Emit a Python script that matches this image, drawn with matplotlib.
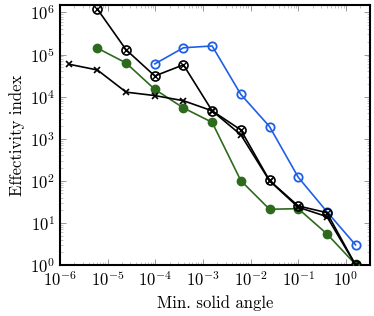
import matplotlib
matplotlib.use("Agg")
import matplotlib.pyplot as plt
import numpy as np

plt.rcParams['font.family'] = 'serif'
plt.rcParams['font.serif'] = ['cmr10']
plt.rcParams['mathtext.fontset'] = 'cm'
plt.rcParams['axes.formatter.use_mathtext'] = True

solid_angle = [1.53e-6, 6.1e-6, 2.44e-5, 9.77e-5, 3.9e-4, 1.5625e-3, 6.25e-3, 0.025, 0.1, 0.4, 1.6]

cross_vals = [5.9e4, 4.3e4, 1.28e4, 1.06e4, 8.0e3, 4.6e3, 1.24e3, 1.0e2, 23.6, 14.1, 1.0]
otimes_x = solid_angle[1:]
otimes_vals = [1.2e6, 1.3e5, 3.1e4, 5.7e4, 4.6e3, 1.62e3, 1.02e2, 25.3, 17.5, 1.0]
green_x = solid_angle[1:]
green_vals = [1.42e5, 6.3e4, 1.49e4, 5.4e3, 2.45e3, 101, 21.1, 21.8, 5.5, 1.03]
blue_x = solid_angle[3:]
blue_vals = [6.0e4, 1.45e5, 1.6e5, 1.13e4, 1.95e3, 122, 18.5, 3.0]

BLUE = '#1f5fe6'
GREEN = '#2d6a1e'

fig = plt.figure(figsize=(3.74, 3.16), dpi=100)
ax = fig.add_axes([0.1604, 0.1614, 0.8276, 0.8226])

ax.plot(blue_x, blue_vals, color=BLUE, lw=1.2, marker='o', ms=6,
        mfc='none', mec=BLUE, mew=1.3, zorder=3)
ax.plot(green_x, green_vals, color=GREEN, lw=1.2, marker='o', ms=6,
        mfc=GREEN, mec=GREEN, zorder=3)
ax.plot(solid_angle, cross_vals, color='black', lw=1.2, marker='x', ms=4.5,
        mew=1.2, zorder=4)
ax.plot(otimes_x, otimes_vals, color='black', lw=1.2, marker='o', ms=6.5,
        mfc='none', mec='black', mew=1.2, zorder=4)
ax.plot(otimes_x, otimes_vals, ls='none', marker='x', ms=4, color='black',
        mew=1.0, zorder=5)

ax.set_xscale('log')
ax.set_yscale('log')
ax.set_xlim(1e-6, 3.14)
ax.set_ylim(1, 1.5e6)
ax.set_xticks([1e-6, 1e-5, 1e-4, 1e-3, 1e-2, 1e-1, 1e0])
ax.set_yticks([1e0, 1e1, 1e2, 1e3, 1e4, 1e5, 1e6])
ax.xaxis.set_minor_locator(matplotlib.ticker.LogLocator(base=10, subs=np.arange(2, 10), numticks=20))
ax.yaxis.set_minor_locator(matplotlib.ticker.LogLocator(base=10, subs=np.arange(2, 10), numticks=20))
ax.xaxis.set_minor_formatter(matplotlib.ticker.NullFormatter())
ax.yaxis.set_minor_formatter(matplotlib.ticker.NullFormatter())

ax.tick_params(which='both', direction='in', top=True, right=True, labelsize=12)
ax.tick_params(which='major', length=4, width=0.6, color='#888888')
ax.tick_params(which='minor', length=2.5, width=0.5, color='#aaaaaa')
for s in ax.spines.values():
    s.set_linewidth(1.5)

ax.set_xlabel('Min. solid angle', fontsize=12)
ax.set_ylabel('Effectivity index', fontsize=12)

fig.savefig('out.png', dpi=100)
